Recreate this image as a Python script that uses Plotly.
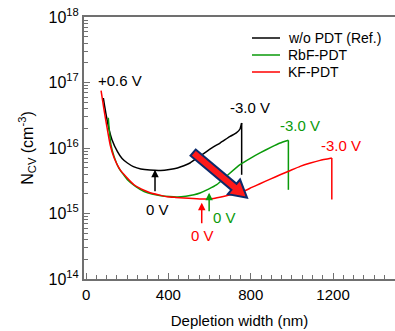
import numpy as np
import plotly.graph_objects as go

# ---------------- data ----------------
ref_x = [84, 90, 96, 112, 126, 152, 175, 201, 230, 266, 310, 363, 405, 444, 475, 505, 545, 580, 615, 651, 700, 730, 748, 756]
ref_y = [5.8e16, 4.4e16, 3.42e16, 1.9e16, 1.34e16, 8.87e15, 6.9e15, 5.9e15, 5.2e15, 4.78e15, 4.6e15, 4.55e15,
         4.7e15, 4.95e15, 5.35e15, 5.9e15, 7.2e15, 8.6e15, 1.02e16, 1.19e16, 1.5e16, 1.7e16, 1.95e16, 2.41e16]
ref_drop = [3.9e15]

rbf_x = [108, 114, 121, 136, 160, 201, 240, 282, 320, 363, 405, 444, 485, 525, 554, 595, 635, 690, 748, 800, 845, 900, 943, 983]
rbf_y = [2.9e16, 1.7e16, 1.12e16, 7.45e15, 4.9e15, 3.28e15, 2.6e15, 2.17e15, 1.98e15, 1.87e15, 1.81e15,
         1.79e15, 1.84e15, 1.94e15, 2.06e15, 2.35e15, 2.75e15, 3.9e15, 5.56e15, 7.0e15, 8.4e15, 1.03e16, 1.19e16, 1.31e16]
rbf_drop = [2.3e15]

kf_x = [73, 87, 102, 117, 136, 165, 199, 233, 270, 311, 355, 394, 435, 476, 520, 569, 620, 667, 715, 764, 805, 845, 895, 943, 990, 1040, 1090, 1137, 1194]
kf_y = [7.5e16, 3.89e16, 2.04e16, 1.12e16, 7.1e15, 4.67e15, 3.52e15, 2.75e15, 2.35e15, 2.08e15,
        1.92e15, 1.8e15, 1.76e15, 1.73e15, 1.69e15, 1.66e15, 1.7e15, 1.82e15, 1.97e15, 2.17e15, 2.5e15, 2.85e15,
        3.35e15, 3.9e15, 4.5e15, 5.24e15, 5.9e15, 6.47e15, 7.03e15]
kf_drop = [1.63e15]

series_names = ["w/o PDT (Ref.)", "RbF-PDT", "KF-PDT"]
series_colors = ["#000000", "#0a9a0a", "#ff0000"]

# 0 V arrow positions (x, N at curve)
zero_v_x = [335, 598, 562]
zero_v_y = [4.67e15, 2.08e15, 1.46e15]

x_range = [-10, 1501]
y_range_log = [14, 18]

# ---------------- figure ----------------
fig = go.Figure()
for xs, ys, dr, name, col in zip([ref_x, rbf_x, kf_x], [ref_y, rbf_y, kf_y], [ref_drop, rbf_drop, kf_drop],
                                 series_names, series_colors):
    fig.add_trace(go.Scatter(x=xs, y=ys, mode="lines", name=name, showlegend=False,
                             line=dict(color=col, width=1.5, shape="spline", smoothing=0.4)))
    fig.add_trace(go.Scatter(x=[xs[-1], xs[-1]], y=[ys[-1], dr[0]], mode="lines", showlegend=False,
                             line=dict(color=col, width=1.5)))

axis_col = "#707070"
font_fam = "Arial, Liberation Sans, sans-serif"

# plot area in window pixels: x 84..395, y 17..279 (body margin removed by post_script)
PL, PT, PB = 84, 17, 279
FW, FH = 395, 331
L, R, T = PL, 0, PT
B = FH - PB
W = FW - L - R
H = FH - T - B

fig.update_layout(
    width=FW, height=FH,
    margin=dict(l=L, r=R, t=T, b=B),
    paper_bgcolor="white", plot_bgcolor="white",
    font=dict(family=font_fam, size=14, color="black"),
    showlegend=False,
    xaxis=dict(range=x_range, showgrid=False, zeroline=False, automargin=False,
               showline=True, linecolor=axis_col, linewidth=2, mirror=True,
               tickmode="linear", tick0=0, dtick=400,
               ticks="inside", ticklen=6, tickcolor=axis_col, tickwidth=1,
               minor=dict(ticks="inside", ticklen=4, dtick=50, tickcolor=axis_col, showgrid=False),
               tickfont=dict(size=15), ticklabelstandoff=1, ticklabeloverflow="allow",
               title=dict(text="Depletion width (nm)", font=dict(size=15), standoff=13)),
    yaxis=dict(type="log", range=y_range_log, showgrid=False, zeroline=False, automargin=False,
               showline=True, linecolor=axis_col, linewidth=2, mirror=False,
               tickvals=[10 ** k for k in range(14, 19)],
               ticktext=["10<sup>%d</sup>" % k for k in range(14, 19)],
               ticks="inside", ticklen=6, tickcolor=axis_col, tickwidth=1,
               minor=dict(ticks="inside", ticklen=4, dtick="D1", tickcolor=axis_col, showgrid=False),
               tickfont=dict(size=16), ticklabeloverflow="allow",
               title=dict(text="N<sub>CV</sub> (cm<sup>-3</sup>)", font=dict(size=16), standoff=11)),
)

# manual legend (line samples + labels), rows given in window pixels
legend_rows_px = [38, 55, 72]
for name, col, ypx in zip(series_names, series_colors, legend_rows_px):
    yp = (PB - ypx) / H
    fig.add_shape(type="line", xref="paper", yref="paper",
                  x0=(252 - PL) / W, x1=(280 - PL) / W, y0=yp, y1=yp,
                  line=dict(color=col, width=1.5))
    fig.add_annotation(xref="paper", yref="paper", x=(286 - PL) / W, y=yp, text=name,
                       showarrow=False, xanchor="left", yanchor="middle",
                       font=dict(size=14, color="black"))

# text labels
labels = [
    ("+0.6 V", 165, 1.06e17, "#000000"),
    ("-3.0 V", 797, 4.12e16, "#000000"),
    ("-3.0 V", 1037, 2.19e16, series_colors[1]),
    ("-3.0 V", 1239, 1.08e16, series_colors[2]),
    ("0 V", 345, 1.14e15, "#000000"),
    ("0 V", 675, 8.6e14, series_colors[1]),
    ("0 V", 564, 4.6e14, series_colors[2]),
]
for txt, x, y, col in labels:
    fig.add_annotation(x=x, y=np.log10(y), text=txt, showarrow=False,
                       font=dict(size=15, color=col), xanchor="center", yanchor="middle")

# 0 V arrows
tail_off = [23, 20, 22]
for x, y, col, off in zip(zero_v_x, zero_v_y, series_colors, tail_off):
    fig.add_annotation(x=x, y=np.log10(y), ax=0, ay=off, text="", showarrow=True,
                       arrowhead=2, arrowsize=1, arrowwidth=1.5, arrowcolor=col)

# big trend arrow (drawn as a polygon in paper coords)
arrow_tail = (520, 8.5e15)
arrow_tip = (782, 1.74e15)


def to_px(x, y):
    xp = (x - x_range[0]) / (x_range[1] - x_range[0]) * W
    yp = (np.log10(y) - y_range_log[0]) / (y_range_log[1] - y_range_log[0]) * H
    return np.array([xp, yp])


p0 = to_px(*arrow_tail)
p1 = to_px(*arrow_tip)
u = (p1 - p0) / np.linalg.norm(p1 - p0)
n = np.array([-u[1], u[0]])
sw, hw, hl = 4.0, 9.5, 17.0
neck = p1 - u * hl
pts = [p0 + n * sw, neck + n * sw, neck + n * hw, p1, neck - n * hw, neck - n * sw, p0 - n * sw]
path = "M " + " L ".join("%.4f,%.4f" % (p[0] / W, p[1] / H) for p in pts) + " Z"
fig.add_shape(type="path", path=path, xref="paper", yref="paper",
              fillcolor="#ff1a1a", line=dict(color="#0b2a6b", width=2), layer="above")

fig.write_html("out.html", config={"displayModeBar": False},
               post_script="document.body.style.margin='0';document.body.style.overflow='hidden';")
